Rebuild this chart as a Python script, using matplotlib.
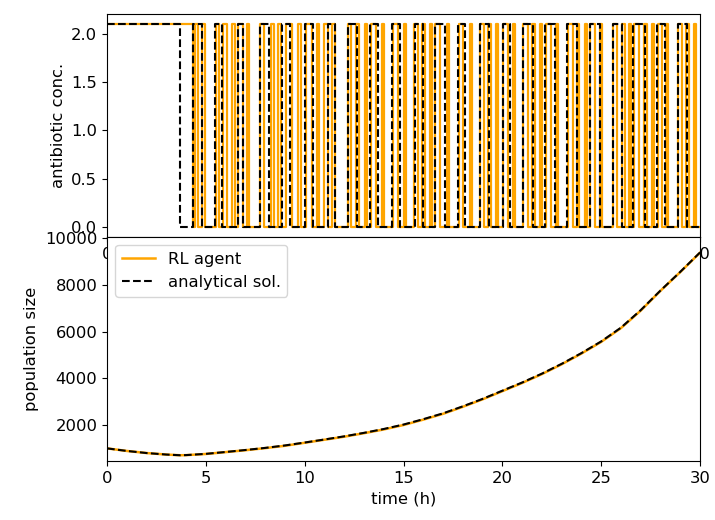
import numpy as np
import matplotlib
matplotlib.use("Agg")
import matplotlib.pyplot as plt

plt.rcParams['font.size'] = 11.8

# dosing level used by both policies
DOSE = 2.1
T_END = 30.0

# switch times (h) of the antibiotic signal; both start switched on
rl_switch = [4.35,
             4.45, 4.60, 4.80, 4.95, 5.50, 5.65, 5.85, 6.05, 6.30, 6.45,
             6.65, 6.90, 7.10, 7.20, 7.75, 7.95, 8.30, 8.45, 8.65, 8.80,
             9.05, 9.35, 9.65, 9.80, 10.05, 10.35, 10.60, 10.70, 11.00, 11.20,
             11.40, 11.55, 12.20, 12.35, 12.60, 12.75, 13.05, 13.15, 13.35, 13.60,
             13.90, 14.00, 14.45, 14.70, 15.00, 15.10, 15.55, 15.75, 15.95, 16.10,
             16.35, 16.45, 16.60, 16.85, 17.20, 17.30, 17.80, 18.00, 18.35, 18.45,
             18.85, 19.05, 19.25, 19.40, 19.70, 19.80, 20.05, 20.30, 20.55, 20.65,
             21.05, 21.30, 21.50, 21.65, 21.90, 22.00, 22.20, 22.45, 22.70, 22.80,
             23.30, 23.55, 23.75, 23.90, 24.20, 24.30, 24.45, 24.70, 24.95, 25.05,
             25.60, 25.80, 26.05, 26.20, 26.40, 26.50, 26.65, 26.90, 27.15, 27.30,
             27.55, 27.65, 27.85, 28.05, 28.30, 28.40, 28.90, 29.10, 29.30, 29.45,
             29.70, 29.80]

opt_switch = [3.70,
              4.37, 4.79, 5.46, 5.83, 6.64, 6.89, 7.74, 8.19, 8.84, 9.26,
              10.02, 10.42, 11.18, 11.53, 12.19, 12.65, 13.30, 13.71, 14.42, 14.82,
              15.58, 15.98, 16.59, 17.10, 17.75, 18.11, 18.87, 19.32, 20.03, 20.38,
              21.04, 21.55, 22.15, 22.66, 23.27, 23.77, 24.43, 24.94, 25.59, 26.05,
              26.61, 27.21, 27.82, 28.22, 28.88, 29.33]

# population size sampled every hour
t_pop = [0, 1, 2, 3, 3.7, 4, 5, 6, 7, 8, 9, 10, 11, 12, 13, 14, 15,
         16, 17, 18, 19, 20, 21, 22, 23, 24, 25, 26, 27, 28, 29, 30]
pop_rl = [1000, 890, 800, 735, 705, 710, 760, 840, 920, 1010, 1110, 1240,
          1370, 1500, 1650, 1810, 2000, 2230, 2480, 2780, 3100, 3450, 3800,
          4180, 4600, 5060, 5560, 6150, 6900, 7750, 8550, 9380]
pop_opt = [1000, 890, 800, 735, 705, 712, 765, 845, 930, 1020, 1125, 1250,
           1380, 1515, 1665, 1830, 2020, 2250, 2500, 2800, 3120, 3470, 3820,
           4200, 4620, 5080, 5580, 6170, 6920, 7760, 8560, 9390]


def toggle_trace(switches, level, t_end):
    """Turn a list of switch times into a square wave starting at `level`."""
    t, y, cur = [0.0], [level], level
    for s in switches:
        nxt = 0.0 if cur > 0 else level
        t += [s, s]
        y += [cur, nxt]
        cur = nxt
    t.append(t_end)
    y.append(cur)
    return np.array(t), np.array(y)


fig = plt.figure(figsize=(7.15, 5.2), dpi=100)
ax1 = fig.add_axes([0.1497, 0.5442, 0.8294, 0.4288])
ax2 = fig.add_axes([0.1497, 0.1135, 0.8294, 0.4307])

t_rl, c_rl = toggle_trace(rl_switch, DOSE, T_END)
t_opt, c_opt = toggle_trace(opt_switch, DOSE, T_END)
ax1.plot(t_rl, c_rl, color='orange', linewidth=1.6)
ax1.plot(t_opt, c_opt, color='black', linestyle='--', linewidth=1.5)
ax1.set_xlim(0, T_END)
ax1.set_ylabel('antibiotic conc.')

ax2.plot(t_pop, pop_rl, color='orange', linewidth=1.8, label='RL agent')
ax2.plot(t_pop, pop_opt, color='black', linestyle='--', linewidth=1.5,
         label='analytical sol.')
ax2.set_xlim(0, T_END)
ax2.set_ylim(460, 10050)
ax2.set_xlabel('time (h)')
ax2.set_ylabel('population size')
ax2.legend(loc='upper left')

plt.savefig('out.png', dpi=100)
